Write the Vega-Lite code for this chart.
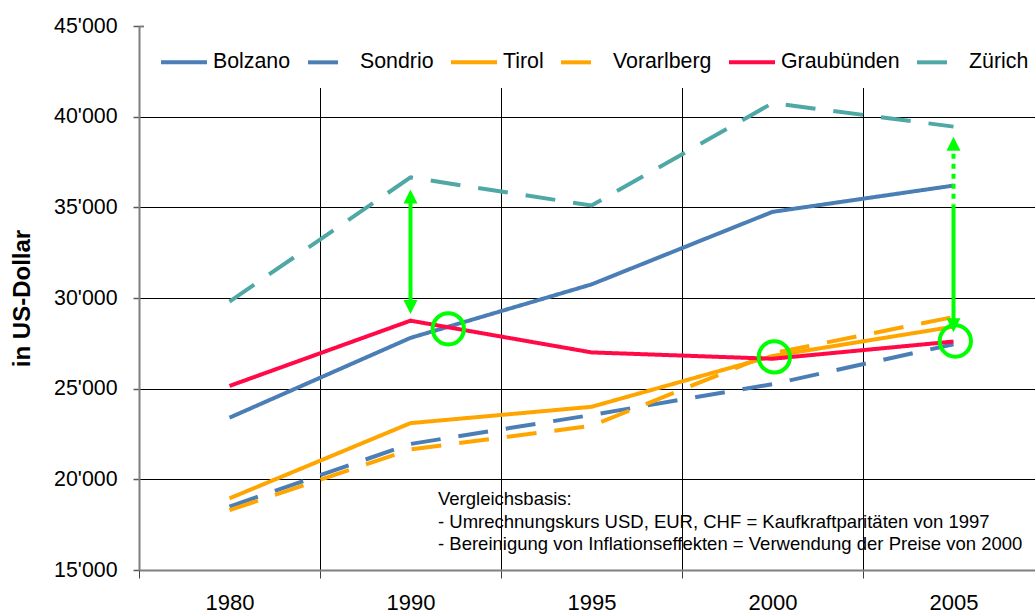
{
  "$schema": "https://vega.github.io/schema/vega-lite/v6.json",
  "width": 896,
  "height": 544,
  "autosize": {"type": "none"},
  "padding": {"left": 139, "top": 26, "right": 0, "bottom": 45},
  "background": "white",
  "config": {
    "font": "Liberation Sans",
    "view": {"stroke": null},
    "legend": {
      "title": null,
      "orient": "none",
      "legendX": 5,
      "legendY": -4,
      "direction": "horizontal",
      "fillColor": "white",
      "padding": 15,
      "symbolType": "stroke",
      "symbolSize": 2116,
      "symbolStrokeWidth": 4,
      "labelFontSize": 21.33,
      "labelFont": "Liberation Sans",
      "labelColor": "black",
      "labelOffset": 4,
      "columnPadding": 9
    }
  },
  "datasets": {
    "gdp": [
      {"region": "Bolzano", "year": "1980", "value": 23400},
      {"region": "Bolzano", "year": "1990", "value": 27800},
      {"region": "Bolzano", "year": "1995", "value": 30750},
      {"region": "Bolzano", "year": "2000", "value": 34750},
      {"region": "Bolzano", "year": "2005", "value": 36200},
      {"region": "Sondrio", "year": "1980", "value": 18500},
      {"region": "Sondrio", "year": "1990", "value": 21950},
      {"region": "Sondrio", "year": "1995", "value": 23550},
      {"region": "Sondrio", "year": "2000", "value": 25250},
      {"region": "Sondrio", "year": "2005", "value": 27450},
      {"region": "Tirol", "year": "1980", "value": 18950},
      {"region": "Tirol", "year": "1990", "value": 23100},
      {"region": "Tirol", "year": "1995", "value": 24000},
      {"region": "Tirol", "year": "2000", "value": 26800},
      {"region": "Tirol", "year": "2005", "value": 28420},
      {"region": "Vorarlberg", "year": "1980", "value": 18300},
      {"region": "Vorarlberg", "year": "1990", "value": 21650},
      {"region": "Vorarlberg", "year": "1995", "value": 22950},
      {"region": "Vorarlberg", "year": "2000", "value": 26950},
      {"region": "Vorarlberg", "year": "2005", "value": 28950},
      {"region": "Graubünden", "year": "1980", "value": 25150},
      {"region": "Graubünden", "year": "1990", "value": 28750},
      {"region": "Graubünden", "year": "1995", "value": 27000},
      {"region": "Graubünden", "year": "2000", "value": 26650},
      {"region": "Graubünden", "year": "2005", "value": 27600},
      {"region": "Zürich", "year": "1980", "value": 29800},
      {"region": "Zürich", "year": "1990", "value": 36650},
      {"region": "Zürich", "year": "1995", "value": 35100},
      {"region": "Zürich", "year": "2000", "value": 40750},
      {"region": "Zürich", "year": "2005", "value": 39450}
    ]
  },
  "layer": [
    {
      "data": {"name": "gdp"},
      "mark": {"type": "line", "strokeWidth": 4, "strokeCap": "butt"},
      "encoding": {
        "x": {
          "field": "year",
          "type": "ordinal",
          "bandPosition": 0.5,
          "scale": {"type": "band", "domain": ["1980", "1990", "1995", "2000", "2005"], "range": [0, 905], "paddingInner": 0, "paddingOuter": 0},
          "axis": {
            "title": null,
            "labelAngle": 0,
            "tickBand": "extent",
            "grid": true,
            "gridColor": "black",
            "gridWidth": 1,
            "domainColor": "#7f7f7f",
            "domainWidth": 2,
            "tickColor": "#404040",
            "tickWidth": 1,
            "tickSize": 8,
            "labelFontSize": 22,
            "labelFont": "Liberation Sans",
            "labelColor": "black",
            "labelPadding": 14
          }
        },
        "y": {
          "field": "value",
          "type": "quantitative",
          "scale": {"domain": [15000, 45000], "nice": false, "zero": false},
          "axis": {
            "title": "in US-Dollar",
            "titleFontSize": 24,
            "titleFontWeight": "bold",
            "titleFont": "Liberation Sans",
            "titleColor": "black",
            "titleX": -117,
            "titleY": 272,
            "titleAngle": -90,
            "titleAlign": "center",
            "titleBaseline": "middle",
            "values": [15000, 20000, 25000, 30000, 35000, 40000, 45000],
            "labelExpr": "replace(format(datum.value, ','), ',', \"'\")",
            "labelFontSize": 21.33,
            "labelFont": "Liberation Sans",
            "labelColor": "black",
            "labelPadding": 16,
            "labelFlush": false,
            "labelOverlap": false,
            "tickSize": 6,
            "tickColor": "#595959",
            "tickWidth": 1.5,
            "domainColor": "#7f7f7f",
            "domainWidth": 2,
            "grid": true,
            "gridColor": {"condition": {"test": "datum.value === 45000", "value": "#7f7f7f"}, "value": "black"},
            "gridWidth": {"condition": {"test": "datum.value === 45000", "value": 2}, "value": 1}
          }
        },
        "color": {
          "field": "region",
          "type": "nominal",
          "scale": {
            "domain": ["Bolzano", "Sondrio", "Tirol", "Vorarlberg", "Graubünden", "Zürich"],
            "range": ["#4A7EB4", "#4A7EB4", "#FFA500", "#FFA500", "#FF0A47", "#4FA8A6"]
          },
          "legend": {"title": null}
        },
        "strokeDash": {
          "field": "region",
          "type": "nominal",
          "scale": {
            "domain": ["Bolzano", "Sondrio", "Tirol", "Vorarlberg", "Graubünden", "Zürich"],
            "range": [[1, 0], [30, 18], [1, 0], [30, 18], [1, 0], [30, 18]]
          },
          "legend": {"title": null}
        }
      }
    },
    {
      "data": {"values": [{}]},
      "mark": {"type": "rule", "color": "#00FF00", "strokeWidth": 4},
      "encoding": {
        "x": {"datum": "1990", "type": "ordinal", "bandPosition": 0.5},
        "y": {"datum": 35600, "type": "quantitative"},
        "y2": {"datum": 29500}
      }
    },
    {
      "data": {"values": [{}]},
      "mark": {"type": "rule", "color": "#00FF00", "strokeWidth": 4, "strokeDash": [5, 5]},
      "encoding": {
        "x": {"datum": "2005", "type": "ordinal", "bandPosition": 0.5},
        "y": {"datum": 38500, "type": "quantitative"},
        "y2": {"datum": 35150}
      }
    },
    {
      "data": {"values": [{}]},
      "mark": {"type": "rule", "color": "#00FF00", "strokeWidth": 4},
      "encoding": {
        "x": {"datum": "2005", "type": "ordinal", "bandPosition": 0.5},
        "y": {"datum": 35150, "type": "quantitative"},
        "y2": {"datum": 28500}
      }
    },
    {
      "data": {"values": [{}]},
      "mark": {"type": "point", "shape": "M0,-1L-1,1L1,1Z", "filled": true, "color": "#00FF00", "opacity": 1, "size": 196},
      "encoding": {
        "x": {"datum": "1990", "type": "ordinal", "bandPosition": 0.5},
        "y": {"datum": 35600, "type": "quantitative"}
      }
    },
    {
      "data": {"values": [{}]},
      "mark": {"type": "point", "shape": "M0,1L-1,-1L1,-1Z", "filled": true, "color": "#00FF00", "opacity": 1, "size": 196},
      "encoding": {
        "x": {"datum": "1990", "type": "ordinal", "bandPosition": 0.5},
        "y": {"datum": 29500, "type": "quantitative"}
      }
    },
    {
      "data": {"values": [{}]},
      "mark": {"type": "point", "shape": "M0,-1L-1,1L1,1Z", "filled": true, "color": "#00FF00", "opacity": 1, "size": 196},
      "encoding": {
        "x": {"datum": "2005", "type": "ordinal", "bandPosition": 0.5},
        "y": {"datum": 38500, "type": "quantitative"}
      }
    },
    {
      "data": {"values": [{}]},
      "mark": {"type": "point", "shape": "M0,1L-1,-1L1,-1Z", "filled": true, "color": "#00FF00", "opacity": 1, "size": 196},
      "encoding": {
        "x": {"datum": "2005", "type": "ordinal", "bandPosition": 0.5},
        "y": {"datum": 28500, "type": "quantitative"}
      }
    },
    {
      "data": {"values": [{}]},
      "mark": {"type": "point", "shape": "circle", "filled": false, "color": "#00FF00", "strokeWidth": 4, "opacity": 1, "size": 980},
      "encoding": {
        "x": {"datum": "1990", "type": "ordinal", "bandPosition": 0.709},
        "y": {"datum": 28300, "type": "quantitative"}
      }
    },
    {
      "data": {"values": [{}]},
      "mark": {"type": "point", "shape": "circle", "filled": false, "color": "#00FF00", "strokeWidth": 4, "opacity": 1, "size": 980},
      "encoding": {
        "x": {"datum": "2000", "type": "ordinal", "bandPosition": 0.51},
        "y": {"datum": 26750, "type": "quantitative"}
      }
    },
    {
      "data": {"values": [{}]},
      "mark": {"type": "point", "shape": "circle", "filled": false, "color": "#00FF00", "strokeWidth": 4, "opacity": 1, "size": 980},
      "encoding": {
        "x": {"datum": "2005", "type": "ordinal", "bandPosition": 0.51},
        "y": {"datum": 27630, "type": "quantitative"}
      }
    },
    {
      "data": {"values": [{}]},
      "mark": {
        "type": "text",
        "text": ["Vergleichsbasis:", "- Umrechnungskurs USD, EUR, CHF = Kaufkraftparitäten von 1997", "- Bereinigung von Inflationseffekten = Verwendung der Preise von 2000"],
        "align": "left",
        "baseline": "top",
        "lineHeight": 22.5,
        "fontSize": 18.5,
        "font": "Liberation Sans",
        "color": "black"
      },
      "encoding": {
        "x": {"datum": "1990", "type": "ordinal", "bandPosition": 0.652},
        "y": {"datum": 19400, "type": "quantitative"}
      }
    }
  ]
}
